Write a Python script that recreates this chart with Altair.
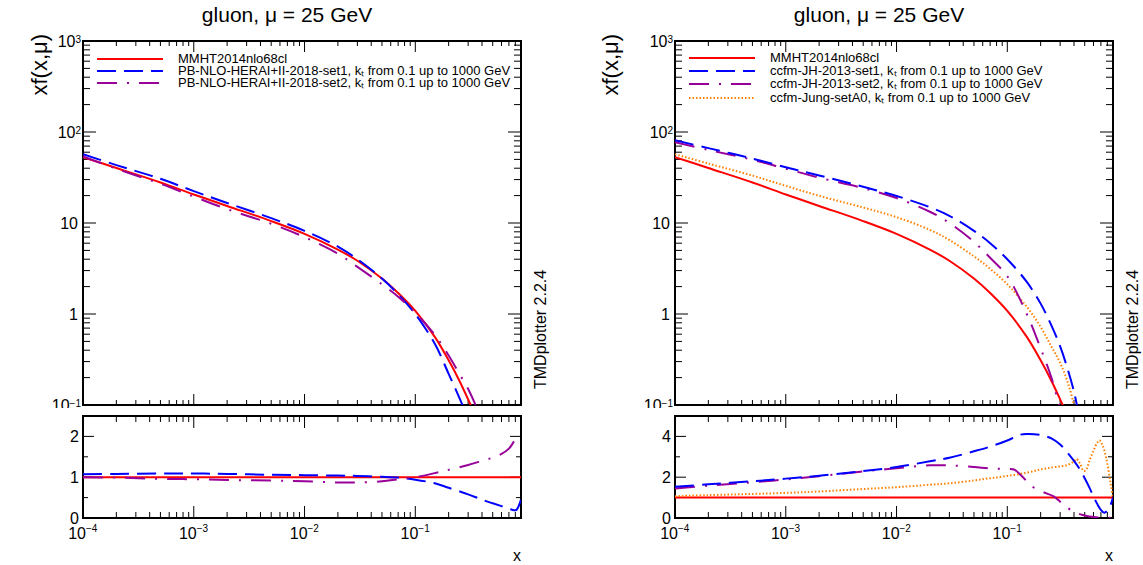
import altair as alt
import pandas as pd

# ---------------- data ----------------
X_MAIN = [1e-4, 2e-4, 5e-4, 1e-3, 2e-3, 5e-3, 1e-2, 2e-2, 3e-2, 5e-2,
          0.07, 0.1, 0.15, 0.2, 0.25, 0.3, 0.35, 0.4, 0.45]
MMHT_MAIN = [53, 40.2, 27.9, 20.6, 15.4, 10.5, 7.6, 5.1, 3.85, 2.45,
             1.7, 1.08, 0.56, 0.31, 0.185, 0.115, 0.075, 0.047, 0.03]
PB1_MAIN = [57, 43.3, 30.6, 22.4, 16.6, 11.3, 8.2, 5.5, 4.0, 2.45,
            1.65, 1.0, 0.47, 0.22, 0.12, 0.07, 0.04, 0.025, 0.015]
PB2_MAIN = [54, 39.5, 27, 19.5, 14.2, 9.8, 7.0, 4.6, 3.3, 2.12,
            1.55, 1.03, 0.59, 0.35, 0.22, 0.15, 0.1, 0.068, 0.045]
JH1_MAIN = [81, 66.5, 51, 41, 33.3, 25, 19.8, 14.9, 12.0, 8.2,
            6.0, 4.0, 2.25, 1.3, 0.75, 0.44, 0.25, 0.14, 0.07]
JH2_MAIN = [77, 63.5, 49.5, 39.5, 31.5, 24.2, 18.8, 13.3, 10.0, 6.2,
            4.15, 2.6, 1.0, 0.42, 0.2, 0.09, 0.045, 0.02, 0.01]
JUNG_MAIN = [57, 45, 33.2, 25.6, 19.9, 14.8, 11.6, 8.4, 6.5, 4.3,
             3.15, 2.12, 1.2, 0.72, 0.44, 0.29, 0.18, 0.1, 0.05]

MMHT_RATIO_X = [1e-4, 0.9]
MMHT_RATIO = [1.0, 1.0]

PB_RATIO_X = [1e-4, 2e-4, 5e-4, 1e-3, 2e-3, 5e-3, 1e-2, 2e-2, 3e-2, 5e-2, 0.07,
              0.1, 0.15, 0.2, 0.3, 0.4, 0.5, 0.6, 0.7, 0.78, 0.82, 0.86, 0.9]
PB1_RATIO = [1.07, 1.08, 1.09, 1.09, 1.08, 1.06, 1.05, 1.04, 1.03, 1.01, 0.99,
             0.94, 0.85, 0.74, 0.58, 0.45, 0.36, 0.29, 0.23, 0.19, 0.2, 0.3, 0.45]
PB2_RATIO = [1.0, 0.99, 0.96, 0.95, 0.93, 0.92, 0.9, 0.87, 0.87, 0.9, 0.95,
             1.0, 1.1, 1.18, 1.3, 1.4, 1.48, 1.57, 1.7, 1.88, 1.95, 1.96, 1.95]

JH1_RATIO_X = [1e-4, 2e-4, 5e-4, 1e-3, 2e-3, 5e-3, 1e-2, 2e-2, 3e-2, 5e-2, 0.07,
               0.1, 0.13, 0.15, 0.2, 0.25, 0.3, 0.35, 0.4, 0.45, 0.5, 0.55, 0.6,
               0.65, 0.7, 0.75, 0.8, 0.85, 0.9]
JH1_RATIO = [1.53, 1.65, 1.8, 1.93, 2.07, 2.3, 2.5, 2.78, 2.95, 3.27, 3.5,
             3.8, 4.08, 4.12, 4.07, 3.9, 3.6, 3.2, 2.8, 2.4, 1.95, 1.5, 1.05,
             0.68, 0.4, 0.26, 0.36, 0.6, 1.0]
JH2_RATIO_X = [1e-4, 2e-4, 5e-4, 1e-3, 2e-3, 5e-3, 1e-2, 2e-2, 3e-2, 5e-2, 0.07,
               0.1, 0.115, 0.13, 0.15, 0.165, 0.2, 0.22, 0.26, 0.3, 0.33, 0.4,
               0.47, 0.55, 0.65, 0.75, 0.8, 0.86, 0.9]
JH2_RATIO = [1.45, 1.58, 1.75, 1.89, 2.05, 2.28, 2.44, 2.58, 2.58, 2.5, 2.43,
             2.4, 2.38, 2.15, 1.8, 1.56, 1.35, 1.23, 1.07, 0.8, 0.6, 0.3,
             0.16, 0.07, 0.03, 0.01, 0.0, 0.03, 0.15]
JUNG_RATIO_X = [1e-4, 2e-4, 5e-4, 1e-3, 2e-3, 5e-3, 1e-2, 2e-2, 3e-2, 5e-2, 0.07,
                0.1, 0.15, 0.2, 0.25, 0.3, 0.35, 0.4, 0.42, 0.45, 0.49, 0.52,
                0.55, 0.6, 0.65, 0.68, 0.72, 0.78, 0.85, 0.9]
JUNG_RATIO = [1.07, 1.12, 1.18, 1.23, 1.3, 1.42, 1.51, 1.63, 1.7, 1.84, 1.95,
              2.06, 2.22, 2.38, 2.47, 2.53, 2.6, 2.78, 2.9, 2.7, 2.3, 2.4,
              2.8, 3.3, 3.7, 3.8, 3.6, 2.96, 1.8, 1.0]

TITLE = "gluon, μ = 25 GeV"
Y_TITLE = "xf(x,μ)"
X_TITLE = "x"
SIDE_TEXT = "TMDplotter 2.2.4"
LEGEND_LEFT = ["MMHT2014nlo68cl",
               "PB-NLO-HERAI+II-2018-set1, kₜ from 0.1 up to 1000 GeV",
               "PB-NLO-HERAI+II-2018-set2, kₜ from 0.1 up to 1000 GeV"]
LEGEND_RIGHT = ["MMHT2014nlo68cl",
                "ccfm-JH-2013-set1, kₜ from 0.1 up to 1000 GeV",
                "ccfm-JH-2013-set2, kₜ from 0.1 up to 1000 GeV",
                "ccfm-Jung-setA0, kₜ from 0.1 up to 1000 GeV"]

X_TICKS = [1e-4, 1e-3, 1e-2, 1e-1]
X_TICK_MANT = ["10", "10", "10", "10"]
X_TICK_EXP = ["−4", "−3", "−2", "−1"]
Y_MAIN_TICKS = [0.1, 1, 10, 100, 1000]
Y_MAIN_MANT = ["10", "1", "10", "10", "10"]
Y_MAIN_EXP = ["−1", "", "", "2", "3"]
Y_RATIO_L_TICKS = [0, 1, 2]
Y_RATIO_L_MINOR = [0.5, 1.5]
Y_RATIO_R_TICKS = [0, 2, 4]
Y_RATIO_R_MINOR = [1, 3]

# ---------------- styling ----------------
FONT = "Liberation Sans"
W, HM, HR = 438, 364, 102
RED, BLUE, PURPLE, ORANGE = "#ff0000", "#0000ff", "#990099", "#ff8000"
DASH = [19, 8]
DASHDOT = [20, 10, 2, 10]
DOT = [1.5, 2]

XS = alt.Scale(type="log", domain=[1e-4, 0.9], nice=False)
YM = alt.Scale(type="log", domain=[0.1, 1000], nice=False)
YRL = alt.Scale(type="linear", domain=[0, 2.5], nice=False, zero=False)
YRR = alt.Scale(type="linear", domain=[0, 5], nice=False, zero=False)

X_MINOR = [m * 10.0 ** e for e in range(-4, 0) for m in range(2, 10)]
Y_MINOR = [m * 10.0 ** e for e in range(-1, 3) for m in range(2, 10)]


def curve(xs, ys, ysc, color, dash=None):
    df = pd.DataFrame({"x": xs, "y": ys})
    props = dict(color=color, strokeWidth=2, clip=True, interpolate="catmull-rom")
    if dash:
        props["strokeDash"] = dash
    return alt.Chart(df).mark_line(**props).encode(
        x=alt.X("x:Q", scale=XS, axis=None),
        y=alt.Y("y:Q", scale=ysc, axis=None))


def xticks(values, h, length):
    df = pd.DataFrame({"v": values})
    base = alt.Chart(df).mark_rule(color="black", strokeWidth=1)
    xe = alt.X("v:Q", scale=XS, axis=None)
    return [base.encode(x=xe, y=alt.value(h), y2=alt.value(h - length)),
            base.encode(x=xe, y=alt.value(0), y2=alt.value(length))]


def yticks(values, ysc, length):
    df = pd.DataFrame({"v": values})
    base = alt.Chart(df).mark_rule(color="black", strokeWidth=1)
    ye = alt.Y("v:Q", scale=ysc, axis=None)
    return [base.encode(y=ye, x=alt.value(0), x2=alt.value(length)),
            base.encode(y=ye, x=alt.value(W), x2=alt.value(W - length))]


def glyph_width(s, size):
    table = {"−": 0.584}
    return sum(table.get(c, 0.556) for c in s) * size


def ymain_labels():
    out = []
    for v, m, e in zip(Y_MAIN_TICKS, Y_MAIN_MANT, Y_MAIN_EXP):
        df = pd.DataFrame({"v": [v], "m": [m], "e": [e]})
        ye = alt.Y("v:Q", scale=YM, axis=None)
        if e:
            out.append(alt.Chart(df).mark_text(font=FONT, fontSize=10, align="right",
                                               baseline="alphabetic", dy=2).encode(
                y=ye, x=alt.value(-2), text="e:N"))
            out.append(alt.Chart(df).mark_text(font=FONT, fontSize=16, align="right",
                                               baseline="alphabetic", dy=6).encode(
                y=ye, x=alt.value(-2 - glyph_width(e, 10)), text="m:N"))
        else:
            out.append(alt.Chart(df).mark_text(font=FONT, fontSize=16, align="right",
                                               baseline="alphabetic", dy=6).encode(
                y=ye, x=alt.value(-5), text="m:N"))
    return out


def yratio_labels(values, ysc):
    df = pd.DataFrame({"v": values, "t": [str(v) for v in values]})
    return [alt.Chart(df).mark_text(font=FONT, fontSize=16, align="right",
                                    baseline="alphabetic", dy=6).encode(
        y=alt.Y("v:Q", scale=ysc, axis=None), x=alt.value(-4), text="t:N")]


def x_labels():
    df = pd.DataFrame({"v": X_TICKS, "m": X_TICK_MANT, "e": X_TICK_EXP})
    xe = alt.X("v:Q", scale=XS, axis=None)
    return [alt.Chart(df).mark_text(font=FONT, fontSize=16, align="right",
                                    baseline="alphabetic", dx=3).encode(
                x=xe, y=alt.value(HR + 21), text="m:N"),
            alt.Chart(df).mark_text(font=FONT, fontSize=10, align="left",
                                    baseline="alphabetic", dx=3).encode(
                x=xe, y=alt.value(HR + 14), text="e:N")]


def pix_text(txt, x, y, size, align="left", baseline="alphabetic", angle=0, color="black"):
    df = pd.DataFrame({"t": [txt]})
    props = dict(font=FONT, fontSize=size, align=align, baseline=baseline, color=color)
    if angle:
        props["angle"] = angle
    return alt.Chart(df).mark_text(**props).encode(
        x=alt.value(x), y=alt.value(y), text="t:N")


def legend(labels, colors, dashes, rows):
    out = []
    for lab, col, dsh, r in zip(labels, colors, dashes, rows):
        df = pd.DataFrame({"t": [lab]})
        props = dict(color=col, strokeWidth=2)
        if dsh:
            props["strokeDash"] = dsh
        out.append(alt.Chart(df).mark_rule(**props).encode(
            x=alt.value(14), x2=alt.value(80), y=alt.value(r)))
        out.append(alt.Chart(df).mark_text(font=FONT, fontSize=13, align="left",
                                           baseline="middle").encode(
            x=alt.value(95), y=alt.value(r), text="t:N"))
    return out


def main_panel(curves, leg_labels, colors, dashes, rows, ytitle_x, anchor=False):
    layers = []
    if anchor:
        layers.append(alt.Chart(pd.DataFrame({"a": [0]})).mark_rect(opacity=0).encode(
            x=alt.value(-82), x2=alt.value(-81), y=alt.value(-40), y2=alt.value(-39)))
    layers += xticks(X_TICKS, HM, 11) + xticks(X_MINOR, HM, 5)
    layers += yticks(Y_MAIN_TICKS, YM, 13) + yticks(Y_MINOR, YM, 7)
    layers += curves
    layers += ymain_labels()
    layers += legend(leg_labels, colors, dashes, rows)
    layers.append(pix_text(TITLE, 204, -19, 21, align="center"))
    layers.append(pix_text(Y_TITLE, ytitle_x, -7, 22, align="right", angle=270))
    layers.append(pix_text(SIDE_TEXT, W + 25, 348, 16, align="left", angle=270))
    return alt.layer(*layers).properties(width=W, height=HM)


def ratio_panel(curves, ysc, majors, minors):
    layers = [alt.Chart(pd.DataFrame({"a": [0]})).mark_rect(color="white").encode(
        x=alt.value(-80), x2=alt.value(-1), y=alt.value(-8), y2=alt.value(-1))]
    layers += xticks(X_TICKS, HR, 12) + xticks(X_MINOR, HR, 6)
    layers += yticks(majors, ysc, 11) + yticks(minors, ysc, 5)
    layers += curves
    layers += yratio_labels(majors, ysc)
    layers += x_labels()
    layers.append(pix_text(X_TITLE, W, HR + 43, 16, align="right"))
    return alt.layer(*layers).properties(width=W, height=HR)


left_main = main_panel(
    [curve(X_MAIN, MMHT_MAIN, YM, RED),
     curve(X_MAIN, PB1_MAIN, YM, BLUE, DASH),
     curve(X_MAIN, PB2_MAIN, YM, PURPLE, DASHDOT)],
    LEGEND_LEFT, [RED, BLUE, PURPLE], [None, DASH, DASHDOT], [18, 30, 42], -36, anchor=True)
left_ratio = ratio_panel(
    [curve(MMHT_RATIO_X, MMHT_RATIO, YRL, RED),
     curve(PB_RATIO_X, PB1_RATIO, YRL, BLUE, DASH),
     curve(PB_RATIO_X, PB2_RATIO, YRL, PURPLE, DASHDOT)],
    YRL, Y_RATIO_L_TICKS, Y_RATIO_L_MINOR)

right_main = main_panel(
    [curve(X_MAIN, MMHT_MAIN, YM, RED),
     curve(X_MAIN, JUNG_MAIN, YM, ORANGE, DOT),
     curve(X_MAIN, JH2_MAIN, YM, PURPLE, DASHDOT),
     curve(X_MAIN, JH1_MAIN, YM, BLUE, DASH)],
    LEGEND_RIGHT, [RED, BLUE, PURPLE, ORANGE], [None, DASH, DASHDOT, DOT],
    [17, 30, 43, 57], -57)
right_ratio = ratio_panel(
    [curve(MMHT_RATIO_X, MMHT_RATIO, YRR, RED),
     curve(JUNG_RATIO_X, JUNG_RATIO, YRR, ORANGE, DOT),
     curve(JH2_RATIO_X, JH2_RATIO, YRR, PURPLE, DASHDOT),
     curve(JH1_RATIO_X, JH1_RATIO, YRR, BLUE, DASH)],
    YRR, Y_RATIO_R_TICKS, Y_RATIO_R_MINOR)

chart = alt.concat(
    left_main, right_main, left_ratio, right_ratio,
    columns=2,
    spacing=alt.RowColnumber(row=11, column=154),
    bounds="flush",
).properties(
    padding=0, background="white"
).configure(font=FONT).configure_view(stroke="black", strokeWidth=2, fill=None)

chart.save("out.html", embed_options={"renderer": "svg", "actions": False})
